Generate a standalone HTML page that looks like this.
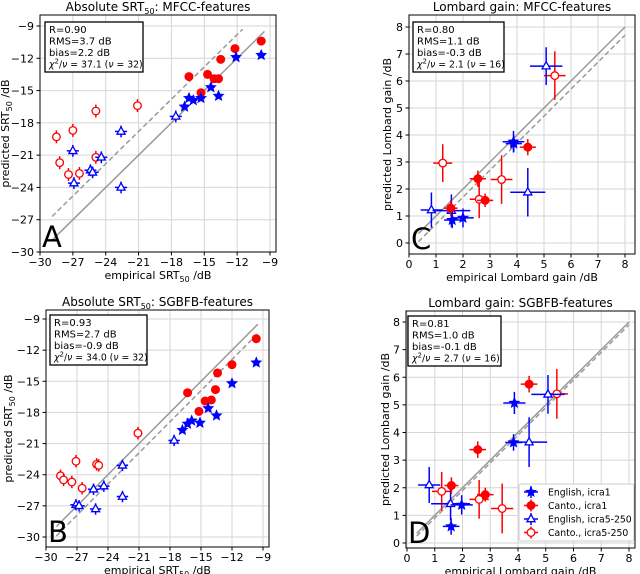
<!DOCTYPE html>
<html><head><meta charset="utf-8"><style>
body{margin:0;background:#fff}
svg{display:block;font-family:"DejaVu Sans","Liberation Sans",sans-serif}
</style></head><body>
<svg id="fig" width="640" height="574" viewBox="0 0 640 574" xmlns="http://www.w3.org/2000/svg"></svg>
<script>
// ---------- Panel A data (MFCC, SRT) ----------
const aEngIcra1X=[-16.4,-16.0,-16.8,-15.3,-14.4,-13.7,-12.1,-9.8];
const aEngIcra1Y=[-15.7,-15.9,-16.5,-15.7,-14.7,-15.5,-11.9,-11.7];
const aCanIcra1X=[-16.4,-14.7,-15.3,-14.1,-13.7,-13.5,-12.2,-9.8];
const aCanIcra1Y=[-13.7,-13.5,-15.2,-13.9,-13.9,-12.1,-11.1,-10.4];
const aEngIcra5X=[-27.0,-26.9,-25.4,-25.2,-24.4,-22.6,-22.6,-17.6];
const aEngIcra5Y=[-20.6,-23.6,-22.4,-22.6,-21.2,-18.8,-24.0,-17.4];
const aCanIcra5X=[-28.5,-28.2,-27.0,-24.9,-21.1,-24.9,-27.4,-26.4];
const aCanIcra5Y=[-19.3,-21.7,-18.7,-16.9,-16.4,-21.2,-22.8,-22.7];
// ---------- Panel B data (SGBFB, SRT) ----------
const bEngIcra1X=[-16.8,-16.3,-15.9,-15.1,-14.3,-13.5,-12.0,-9.65];
const bEngIcra1Y=[-19.7,-19.1,-18.8,-19.0,-17.6,-18.3,-15.2,-13.2];
const bCanIcra1X=[-16.3,-14.6,-14.0,-15.2,-13.6,-13.4,-12.0,-9.65];
const bCanIcra1Y=[-16.1,-16.9,-16.8,-17.9,-15.8,-14.2,-13.4,-10.9];
const bEngIcra5X=[-27.1,-26.8,-25.4,-25.2,-24.4,-22.6,-22.6,-17.6];
const bEngIcra5Y=[-26.9,-27.0,-25.4,-27.3,-25.1,-23.1,-26.1,-20.7];
const bCanIcra5X=[-28.6,-28.3,-27.1,-27.5,-25.1,-24.9,-26.5,-21.1];
const bCanIcra5Y=[-24.1,-24.5,-22.7,-24.7,-23.0,-23.1,-25.3,-20.0];
// SRT error sizes (dB) per series
const srtXerr=[0.35,0.15,0.55,0.3];
const srtYerr=[0.25,0.2,0.55,0.6];
// ---------- Panel C data (MFCC, Lombard) ----------
const cEngIcra1X=[3.87,3.88,1.6,2.0];   const cEngIcra1Y=[3.75,3.68,0.85,0.93];
const cCanIcra1X=[4.4,2.55,1.55,2.82];  const cCanIcra1Y=[3.55,2.38,1.29,1.58];
const cEngIcra5X=[5.08,0.83,1.57,4.4];  const cEngIcra5Y=[6.55,1.22,1.2,1.88];
const cCanIcra5X=[5.4,1.25,2.6,3.43];   const cCanIcra5Y=[6.2,2.96,1.62,2.35];
// ---------- Panel D data (SGBFB, Lombard) ----------
const dEngIcra1X=[3.87,3.84,1.59,1.97]; const dEngIcra1Y=[5.07,3.64,0.6,1.38];
const dCanIcra1X=[4.4,2.55,1.6,2.82];   const dCanIcra1Y=[5.75,3.38,2.08,1.75];
const dEngIcra5X=[5.08,0.8,1.57,4.4];   const dEngIcra5Y=[5.38,2.1,1.42,3.65];
const dCanIcra5X=[5.4,1.25,2.6,3.43];   const dCanIcra5Y=[5.4,1.87,1.58,1.25];
// Lombard error bars
const lgEngIcra1Xerr=[0.4,0.3,0.3,0.4]; const lgEngIcra1Yerr=[0.4,0.3,0.3,0.35];
const lgCanIcra1Xerr=[0.3,0.3,0.25,0.3]; const lgCanIcra1Yerr=[0.3,0.3,0.3,0.25];
const lgEngIcra5Xerr=[0.6,0.4,0.7,0.65]; const lgEngIcra5Yerr=[0.7,0.65,0.6,0.9];
const lgCanIcra5Xerr=[0.4,0.35,0.35,0.4]; const lgCanIcra5Yerr=[0.9,0.7,0.7,0.9];
// stats / labels
const srtTicks=[-30,-27,-24,-21,-18,-15,-12,-9];
const lgTicks=[0,1,2,3,4,5,6,7,8];
const statsA=["R=0.90","RMS=3.7 dB","bias=2.2 dB","37.1 (\u03bd = 32)"];
const statsB=["R=0.93","RMS=2.7 dB","bias=-0.9 dB","34.0 (\u03bd = 32)"];
const statsC=["R=0.80","RMS=1.1 dB","bias=-0.3 dB","2.1 (\u03bd = 16)"];
const statsD=["R=0.81","RMS=1.0 dB","bias=-0.1 dB","2.7 (\u03bd = 16)"];
const biasA=2.2, biasB=-0.9, biasC=-0.3, biasD=-0.1;
const legendLabels=["English, icra1","Canto.,  icra1","English, icra5-250","Canto.,  icra5-250"];

const NS="http://www.w3.org/2000/svg";
const svg=document.getElementById('fig');
function mk(tag,attrs,parent){const e=document.createElementNS(NS,tag);for(const k in attrs)e.setAttribute(k,attrs[k]);(parent||svg).appendChild(e);return e;}
function fmt(v){return v<0?'\u2212'+Math.abs(v):String(v);}

function star(g,cx,cy,r,fill,stroke){
  let p=[];for(let i=0;i<10;i++){const a=-Math.PI/2+i*Math.PI/5;const rr=i%2?r*0.45:r;p.push((cx+rr*Math.cos(a)).toFixed(1)+','+(cy+rr*Math.sin(a)).toFixed(1));}
  return mk('polygon',{points:p.join(' '),fill:fill,stroke:stroke,'stroke-width':1},g);
}
function marker(g,kind,cx,cy){
  if(kind===0) return star(g,cx,cy,5,'#0000ff','#0000ff');
  if(kind===1) return mk('circle',{cx:cx,cy:cy,r:4,fill:'#ff0000',stroke:'#ff0000'},g);
  if(kind===2){const r=4.5;return mk('polygon',{points:`${cx},${cy-r} ${cx+r*0.9},${cy+r*0.6} ${cx-r*0.9},${cy+r*0.6}`,fill:'#fff',stroke:'#0000ff','stroke-width':1.3},g);}
  return mk('circle',{cx:cx,cy:cy,r:3.8,fill:'#fff',stroke:'#ff0000','stroke-width':1.3},g);
}

function panel(P){
  const g=mk('g',{});  
  const X=v=>P.x0+(v-P.xv0)*(P.x1-P.x0)/(P.xv1-P.xv0);
  const Y=v=>P.y0+(v-P.yv0)*(P.y1-P.y0)/(P.yv1-P.yv0);
  const grid=mk('g',{},g);
  P.ticks.forEach(t=>{
    mk('line',{x1:X(t),x2:X(t),y1:P.bt,y2:P.bb,stroke:'#d6d6d6','stroke-width':1},grid);
    mk('line',{x1:P.bl,x2:P.br,y1:Y(t),y2:Y(t),stroke:'#d6d6d6','stroke-width':1},grid);
  });
  const xt=mk('g',{},g);
  const yt=mk('g',{},g);
  P.ticks.forEach(t=>{
    mk('line',{x1:X(t),x2:X(t),y1:P.bb,y2:P.bb+3.5,stroke:'#000'},xt);
    const tx=mk('text',{x:X(t),y:P.bb+14,'font-size':11,'text-anchor':'middle'},xt);tx.textContent=fmt(t);
    mk('line',{x1:P.bl-3.5,x2:P.bl,y1:Y(t),y2:Y(t),stroke:'#000'},yt);
    const ty=mk('text',{x:P.bl-6,y:Y(t)+4,'font-size':11,'text-anchor':'end'},yt);ty.textContent=fmt(t);
  });
  const l1=mk('line',{x1:X(P.la),y1:Y(P.la),x2:X(P.lb),y2:Y(P.lb),stroke:'#999','stroke-width':1.5},g);
  
  const l2=mk('line',{x1:X(P.la),y1:Y(P.la+P.bias),x2:X(P.lc),y2:Y(P.lc+P.bias),stroke:'#999','stroke-width':1.5,'stroke-dasharray':'5,3'},g);
  
  const colors=['#0000ff','#ff0000','#0000ff','#ff0000'];
  const names=['english-icra1','canto-icra1','english-icra5-250','canto-icra5-250'];
  [3,2,1,0].forEach(s=>{
    const sg=mk('g',{},g);
    const xs=P.series[s][0],ys=P.series[s][1];
    xs.forEach((xv,i)=>{
      const xe=P.xerr[s][i],ye=P.yerr[s][i];
      mk('line',{x1:X(xv-xe),x2:X(xv+xe),y1:Y(ys[i]),y2:Y(ys[i]),stroke:colors[s],'stroke-width':1.5},sg);
      mk('line',{x1:X(xv),x2:X(xv),y1:Y(ys[i]-ye),y2:Y(ys[i]+ye),stroke:colors[s],'stroke-width':1.5},sg);
      const m=marker(sg,s,X(xv),Y(ys[i]));
      
      
    });
  });
  mk('rect',{x:P.bl,y:P.bt,width:P.br-P.bl,height:P.bb-P.bt,fill:'none',stroke:'#000','stroke-width':1},g);
  const sb=mk('g',{},g);
  mk('rect',{x:P.sx,y:P.sy,width:P.sw,height:50,fill:'#fff',stroke:'#000','stroke-width':1.3},sb);
  P.stats.forEach((s,i)=>{
    const t=mk('text',{x:P.sx+4,y:P.sy+11+i*11.5,'font-size':i===3?9.3:10},sb);
    if(i===3){t.innerHTML='<tspan font-style="italic">\u03c7</tspan><tspan dy="-4" font-size="7">2</tspan><tspan dy="4">/</tspan><tspan font-style="italic">\u03bd</tspan> = '+s.replace('\u03bd','<tspan font-style="italic">\u03bd</tspan>');}
    else t.textContent=s;
  });
  const L=mk('text',{x:P.bl+2,y:P.bb-5,'font-size':29},g);L.textContent=P.letter;
  
  const T=mk('text',{x:(P.bl+P.br)/2,y:P.bt-4,'font-size':12,'text-anchor':'middle'},g);
  T.innerHTML=P.title;
  const XL=mk('text',{x:(P.bl+P.br)/2,y:P.bb+27,'font-size':11,'text-anchor':'middle'},g);
  XL.innerHTML=P.xlab;
  const cy=(P.bt+P.bb)/2;
  const YL=mk('text',{x:P.ylx,y:cy,'font-size':11,'text-anchor':'middle',transform:`rotate(-90 ${P.ylx} ${cy})`},g);
  YL.innerHTML=P.ylab;
  return g;
}
const sub='<tspan font-size="8" dy="3">50</tspan><tspan dy="-3">';
const srtXerrs=srtXerr.map(v=>Array(8).fill(v)), srtYerrs=srtYerr.map(v=>Array(8).fill(v));
const lgX=[lgEngIcra1Xerr,lgCanIcra1Xerr,lgEngIcra5Xerr,lgCanIcra5Xerr];
const lgY=[lgEngIcra1Yerr,lgCanIcra1Yerr,lgEngIcra5Yerr,lgCanIcra5Yerr];

panel({name:'panel-a',letter:'A',bl:40,br:276,bt:15,bb:252,x0:40,x1:270,xv0:-30,xv1:-9,y0:252,y1:26,yv0:-30,yv1:-9,
  ticks:srtTicks,la:-28.9,lb:-9.5,lc:-11.5,bias:biasA,stats:statsA,sx:45,sy:22,sw:98,ylx:9,
  title:'Absolute SRT'+sub+': MFCC-features</tspan>',xlab:'empirical SRT'+sub+' /dB</tspan>',ylab:'predicted SRT'+sub+' /dB</tspan>',
  series:[[aEngIcra1X,aEngIcra1Y],[aCanIcra1X,aCanIcra1Y],[aEngIcra5X,aEngIcra5Y],[aCanIcra5X,aCanIcra5Y]],xerr:srtXerrs,yerr:srtYerrs});
panel({name:'panel-b',letter:'B',bl:46,br:269,bt:310,bb:547,x0:46,x1:263,xv0:-30,xv1:-9,y0:537,y1:319,yv0:-30,yv1:-9,
  ticks:srtTicks,la:-29,lb:-9.5,lc:-9.5,bias:biasB,stats:statsB,sx:50,sy:315,sw:97,ylx:12,
  title:'Absolute SRT'+sub+': SGBFB-features</tspan>',xlab:'empirical SRT'+sub+' /dB</tspan>',ylab:'predicted SRT'+sub+' /dB</tspan>',
  series:[[bEngIcra1X,bEngIcra1Y],[bCanIcra1X,bCanIcra1Y],[bEngIcra5X,bEngIcra5Y],[bCanIcra5X,bCanIcra5Y]],xerr:srtXerrs,yerr:srtYerrs});
panel({name:'panel-c',letter:'C',bl:409,br:635,bt:15,bb:254,x0:409,x1:625,xv0:0,xv1:8,y0:243,y1:27,yv0:0,yv1:8,
  ticks:lgTicks,la:0.35,lb:8,lc:8,bias:biasC,stats:statsC,sx:413,sy:22,sw:91,ylx:391,
  title:'Lombard gain: MFCC-features',xlab:'empirical Lombard gain /dB',ylab:'predicted Lombard gain /dB',
  series:[[cEngIcra1X,cEngIcra1Y],[cCanIcra1X,cCanIcra1Y],[cEngIcra5X,cEngIcra5Y],[cCanIcra5X,cCanIcra5Y]],xerr:lgX,yerr:lgY});
panel({name:'panel-d',letter:'D',bl:406,br:635,bt:311,bb:548,x0:407,x1:629,xv0:0,xv1:8,y0:543,y1:322,yv0:0,yv1:8,
  ticks:lgTicks,la:0.35,lb:8,lc:8,bias:biasD,stats:statsD,sx:408,sy:316,sw:93,ylx:389,
  title:'Lombard gain: SGBFB-features',xlab:'empirical Lombard gain /dB',ylab:'predicted Lombard gain /dB',
  series:[[dEngIcra1X,dEngIcra1Y],[dCanIcra1X,dCanIcra1Y],[dEngIcra5X,dEngIcra5Y],[dCanIcra5X,dCanIcra5Y]],xerr:lgX,yerr:lgY});

const lg=mk('g',{});


mk('rect',{x:519,y:484,width:115,height:57,fill:'#fff',stroke:'#ccc','stroke-width':1,rx:2},lg);
const lcol=['#0000ff','#ff0000','#0000ff','#ff0000'];
legendLabels.forEach((t,i)=>{
  const e=mk('g',{},lg);
  
  
  const y=492+i*13.5;
  mk('line',{x1:524,x2:538,y1:y,y2:y,stroke:lcol[i],'stroke-width':1.5},e);
  mk('line',{x1:531,x2:531,y1:y-6,y2:y+6,stroke:lcol[i],'stroke-width':1.5},e);
  marker(e,i,531,y);
  const tx=mk('text',{x:548,y:y+3.5,'font-size':9.3,'xml:space':'preserve'},e);tx.textContent=t;
});
</script>
</body></html>
